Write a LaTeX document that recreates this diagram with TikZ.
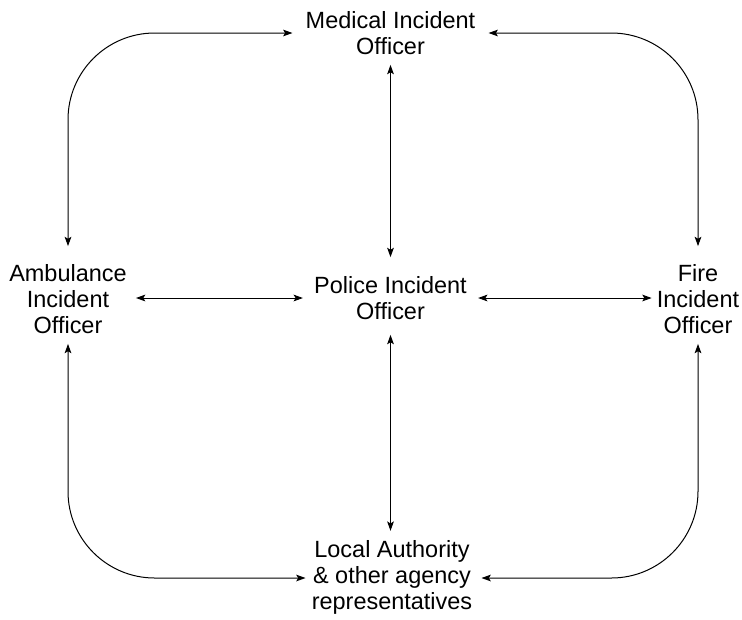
\documentclass[tikz,border=0pt]{standalone}
\usepackage{fontspec}
\setmainfont{Liberation Sans}
\usetikzlibrary{arrows.meta,calc}
\begin{document}
\begin{tikzpicture}[x=0.75pt,y=-0.75pt,
  officer/.style={align=center,inner sep=0pt,font=\fontsize{17.6}{19.5}\selectfont},
  link/.style={line width=0.75pt,{Stealth[length=7pt,width=5pt,inset=1.5pt]}-{Stealth[length=7pt,width=5pt,inset=1.5pt]}},
  loop/.style={link,rounded corners=65pt}]
\useasboundingbox (0,0) rectangle (742,619);
% officers
\node[officer] (med)  at (390.5,33)  {Medical Incident\\Officer};
\node[officer] (pol)  at (390.5,298) {Police Incident\\Officer};
\node[officer] (amb)  at (68,299)  {Ambulance\\Incident\\Officer};
\node[officer] (fire) at (698,299) {Fire\\Incident\\Officer};
\node[officer] (loc)  at (392,577) {Local Authority\\\& other agency\\representatives};
% outer loop
\draw[loop] ($(amb.north)+(0,-18)$) |- ($(med.west)+(-13,0)$);
\draw[loop] ($(med.east)+(13,0)$) -| ($(fire.north)+(0,-18)$);
\draw[loop] ($(amb.south)+(0,10)$) |- ($(loc.west)+(-6,1)$);
\draw[loop] ($(fire.south)+(0,10)$) |- ($(loc.east)+(9,1)$);
% links through the police officer
\draw[link] ($(med.south)+(0,10)$) -- ($(pol.north)+(0,-19)$);
\draw[link] ($(pol.south)+(0,15)$) -- ($(pol.south |- loc.north)+(0,-9)$);
\draw[link] ($(amb.east |- pol.west)+(9,0)$) -- ($(pol.west)+(-11,0)$);
\draw[link] ($(pol.east)+(11,0)$) -- ($(fire.west |- pol.east)+(-5,0)$);
\end{tikzpicture}
\end{document}
